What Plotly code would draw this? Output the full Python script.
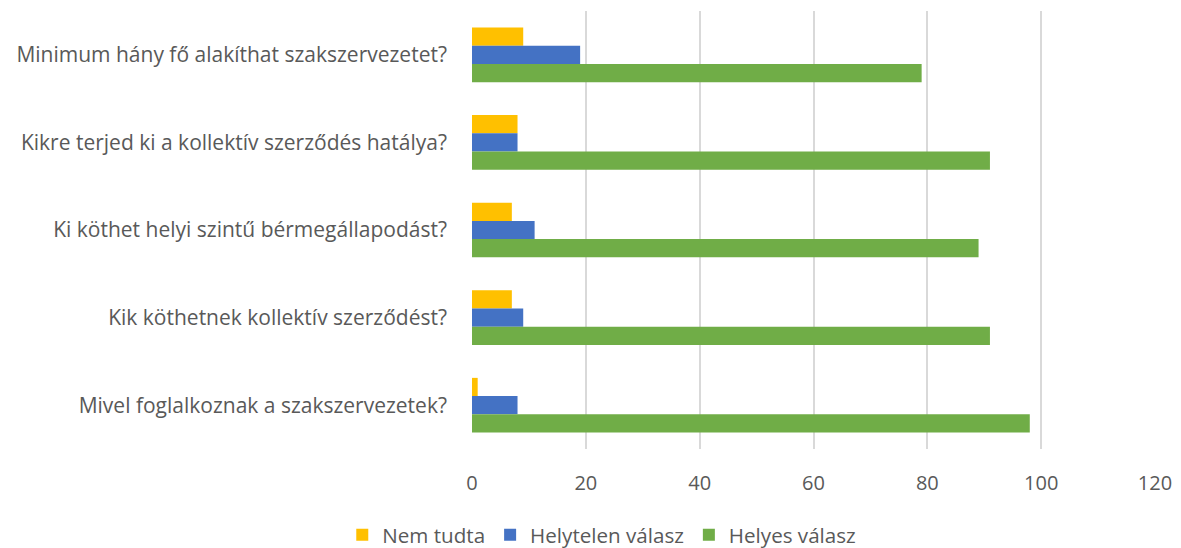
import plotly.graph_objects as go

categories = [
    "Minimum hány fő alakíthat szakszervezetet?",
    "Kikre terjed ki a kollektív szerződés hatálya?",
    "Ki köthet helyi szintű bérmegállapodást?",
    "Kik köthetnek kollektív szerződést?",
    "Mivel foglalkoznak a szakszervezetek?",
]
nem_tudta = [9, 8, 7, 7, 1]
helytelen = [19, 8, 11, 9, 8]
helyes = [79, 91, 89, 91, 98]

series_names = ["Nem tudta", "Helytelen válasz", "Helyes válasz"]
colors = ["#FFC000", "#4472C4", "#70AD47"]

fig = go.Figure()
for name, vals, col in zip(series_names, [nem_tudta, helytelen, helyes], colors):
    fig.add_trace(go.Bar(
        y=categories, x=vals, name=name, orientation="h",
        marker=dict(color=col, line=dict(width=0)),
    ))

fig.update_layout(
    width=1173, height=540,
    barmode="group", bargap=0.376, bargroupgap=0,
    plot_bgcolor="white", paper_bgcolor="white",
    margin=dict(l=464, r=26, t=3, b=99, autoexpand=False),
    font=dict(family="Open Sans, sans-serif", size=20, color="#595959"),
    xaxis=dict(
        range=[0, 120], dtick=20, showgrid=True, gridcolor="#D9D9D9", gridwidth=2,
        zeroline=False, showline=False, ticks="", ticklabelstandoff=20,
        tickfont=dict(size=20, color="#595959"),
    ),
    yaxis=dict(
        autorange="reversed", showgrid=False, zeroline=False, showline=False,
        ticks="", ticklabelstandoff=24, tickfont=dict(size=21, color="#595959"),
    ),
    legend=dict(
        orientation="h", x=0.19, xanchor="center",
        y=-0.196, yanchor="middle",
        font=dict(size=20.6, color="#595959"), itemwidth=30, traceorder="normal",
    ),
)

fig.write_html("out.html")
